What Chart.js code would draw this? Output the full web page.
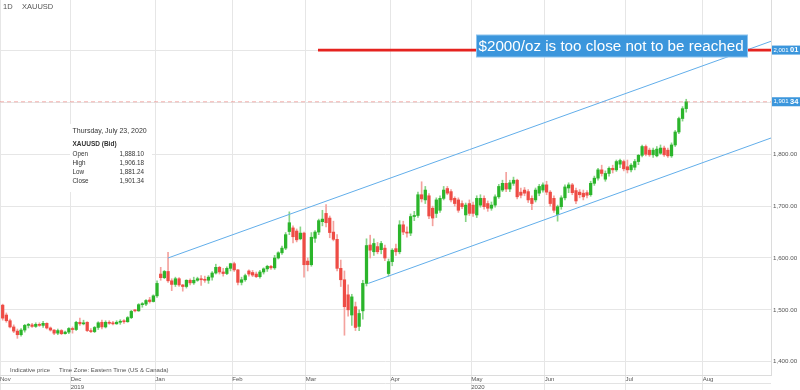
<!DOCTYPE html>
<html><head><meta charset="utf-8">
<script src="https://cdn.jsdelivr.net/npm/chart.js@4.4.1/dist/chart.umd.min.js"></script>
<style>html,body{margin:0;padding:0;background:#fff;}canvas{display:block;}</style>
</head><body>
<canvas id="c" width="800" height="390"></canvas>
<script>
// ---- data ----
const symbol = 'XAUUSD';
const period = '1D';
const monthLabels = ['Nov','Dec','Jan','Feb','Mar','Apr','May','Jun','Jul','Aug'];
const yearLabels  = ['', '2019', '', '', '', '', '2020', '', '', ''];
const monthStartIndex = [null, 19, 42, 63, 83, 106, 128, 148, 170, 191];
const priceTicks = [1400, 1500, 1600, 1700, 1800, 1900, 2000];

const openP = [1509,1490,1479,1467,1459,1452,1461,1470,1471,1468,1472,1470,1474,1465,1461,1455,1460,1454,1457,
1464,1462,1476,1473,1476,1460,1458,1466,1476,1467,1476,1474,1473,1476,1478,1477,1485,1499,1498,1510,1511,1519,
1516,1527,1569,1562,1574,1556,1549,1560,1548,1545,1557,1552,1557,1560,1558,1557,1563,1571,1582,1573,1570,1580,
1589,1577,1553,1558,1575,1572,1569,1564,1573,1579,1584,1581,1600,1610,1619,1651,1658,1652,1637,1648,
1594,1587,1638,1650,1670,1686,1677,1650,1636,1580,1558,1529,1490,1506,1468,1498,1551,1625,1612,1622,1616,1619,
1570,1593,1618,1612,1664,1650,1648,1680,1682,1722,1712,1720,1696,1686,1692,1715,1734,1728,1715,1712,1705,1683,
1705,1702,1683,1702,1715,1705,1696,1702,1718,1731,1744,1733,1744,1750,1727,1731,1728,1715,1712,1725,1731,
1741,1727,1715,1684,1699,1716,1735,1741,1730,1727,1725,1726,1722,1744,1754,1770,1752,1763,1773,1770,1781,1786,
1776,1770,1775,1786,1798,1815,1808,1799,1797,1802,1812,1808,1797,1818,1843,1869,1888.10];
const highP = [1511,1494,1482,1471,1463,1464,1472,1474,1474,1475,1475,1478,1475,1467,1462,1463,1462,1459,1466,
1467,1478,1484,1480,1477,1464,1468,1477,1480,1479,1479,1478,1479,1481,1481,1487,1499,1501,1512,1514,1520,1524,
1529,1556,1582,1576,1611,1560,1563,1562,1549,1558,1560,1563,1563,1566,1565,1566,1574,1588,1584,1580,1583,1590,
1592,1578,1563,1569,1577,1576,1573,1576,1581,1586,1586,1605,1612,1623,1649,1689,1662,1656,1660,1650,
1600,1649,1653,1675,1692,1703,1681,1671,1645,1596,1575,1548,1530,1515,1500,1557,1637,1644,1637,1630,1632,1625,
1598,1618,1627,1672,1671,1660,1685,1690,1727,1747,1738,1724,1700,1716,1720,1738,1738,1732,1718,1716,1710,1706,
1712,1708,1720,1722,1720,1710,1708,1722,1742,1750,1765,1750,1756,1752,1735,1736,1732,1720,1735,1742,1745,
1748,1730,1720,1702,1720,1741,1745,1744,1735,1732,1731,1730,1748,1758,1773,1779,1768,1776,1779,1789,1791,1789,
1789,1782,1790,1800,1818,1818,1812,1812,1815,1818,1816,1812,1822,1846,1872,1892,1906.18];
const lowP = [1480,1476,1465,1456,1445,1449,1457,1465,1466,1466,1468,1466,1463,1459,1452,1452,1452,1453,1454,
1455,1460,1470,1471,1458,1456,1456,1462,1463,1465,1472,1471,1472,1472,1474,1476,1483,1496,1497,1505,1508,1513,
1515,1524,1557,1560,1553,1537,1545,1545,1536,1542,1548,1549,1555,1547,1553,1551,1557,1569,1569,1565,1568,1575,
1574,1548,1548,1555,1565,1564,1562,1561,1569,1574,1578,1578,1598,1607,1616,1645,1629,1631,1635,1563,
1575,1584,1630,1645,1662,1660,1639,1633,1575,1545,1451,1488,1470,1460,1460,1482,1546,1600,1605,1608,1608,1595,
1565,1585,1605,1608,1645,1640,1643,1672,1678,1708,1705,1676,1662,1678,1688,1712,1722,1708,1700,1688,1695,1670,
1682,1680,1678,1698,1694,1690,1692,1698,1715,1728,1728,1728,1740,1714,1716,1720,1707,1693,1708,1720,1727,
1722,1700,1688,1671,1694,1712,1726,1722,1705,1716,1712,1716,1719,1740,1750,1758,1748,1758,1764,1767,1774,1768,
1764,1766,1770,1780,1795,1797,1796,1794,1795,1800,1796,1794,1794,1815,1840,1864,1881.24];
const closeP = [1484,1479,1467,1459,1452,1461,1470,1471,1468,1472,1470,1474,1465,1461,1455,1460,1454,1457,1464,
1462,1476,1473,1474,1460,1458,1466,1475,1467,1476,1474,1473,1476,1478,1477,1485,1497,1498,1510,1511,1518,1516,
1527,1551,1562,1574,1556,1549,1560,1548,1545,1557,1552,1557,1560,1558,1557,1563,1571,1582,1573,1570,1580,1589,
1577,1553,1558,1566,1569,1567,1564,1573,1579,1584,1581,1600,1610,1619,1645,1668,1641,1635,1648,1587,
1587,1640,1650,1672,1675,1668,1649,1636,1580,1558,1506,1500,1525,1466,1493,1551,1624,1615,1628,1612,1628,1600,
1593,1615,1612,1664,1650,1648,1680,1682,1722,1714,1731,1681,1677,1712,1715,1731,1725,1712,1705,1692,1699,1702,
1686,1686,1715,1715,1699,1696,1702,1718,1738,1744,1733,1745,1750,1718,1721,1725,1712,1705,1731,1738,1741,
1727,1705,1692,1699,1716,1737,1741,1726,1710,1722,1718,1721,1744,1754,1770,1763,1763,1773,1770,1786,1788,1772,
1770,1779,1786,1798,1815,1800,1799,1808,1810,1812,1799,1797,1818,1843,1869,1888,1901.34];

const upperChannel = [{x: 45, y: 1600}, {x: 209.07, y: 2018}];
const lowerChannel = [{x: 99.5, y: 1551}, {x: 209.07, y: 1831.4}];
const resistanceLevel = 2001.01;
const resistanceFrom = 85.8;
const lastPrice = closeP[closeP.length - 1];
const infoDate = 'Thursday, July 23, 2020';
const infoTitle = 'XAUUSD (Bid)';
const noteText = '$2000/oz is too close not to be reached';
const footerLeft = 'Indicative price';
const footerRight = 'Time Zone: Eastern Time (US & Canada)';

// ---- chart ----
const X_MIN = -0.73, X_MAX = 209.07;
const FONT = "'Liberation Sans', Arial, sans-serif";
const UP = '#2bb52b', DOWN = '#ee4c45', UPW = '#86d486', DOWNW = '#f4a29e';

const idx = openP.map((_, i) => i);
const isUp = idx.map(i => closeP[i] >= openP[i]);
const fmt = v => v.toLocaleString('en-US', {minimumFractionDigits: 2, maximumFractionDigits: 2});
const noPad = s => { s.paddingTop = 0; s.paddingBottom = 0; s.paddingLeft = 0; s.paddingRight = 0; };

const overlay = {
  id: 'overlay',
  afterDatasetsDraw(chart) {
    const {ctx} = chart;
    ctx.save();
    ctx.fillStyle = '#555';
    ctx.font = '6px ' + FONT;
    ctx.textBaseline = 'middle';
    ctx.textAlign = 'left';
    ctx.fillText(footerLeft, 10, 370);
    ctx.fillText(footerRight, 59, 370);
    // info box
    ctx.fillStyle = '#fff';
    ctx.fillRect(70, 124, 82, 68);
    ctx.fillStyle = '#333';
    ctx.font = '7px ' + FONT;
    ctx.fillText(infoDate, 72.5, 131);
    ctx.font = 'bold 6.5px ' + FONT;
    ctx.fillText(infoTitle, 72.5, 144);
    const last = openP.length - 1;
    const rows = [['Open', openP[last]], ['High', highP[last]], ['Low', lowP[last]], ['Close', closeP[last]]];
    ctx.font = '6.3px ' + FONT;
    rows.forEach((r, k) => {
      const yy = 154 + k * 9;
      ctx.textAlign = 'left';
      ctx.fillText(r[0], 72.5, yy);
      ctx.textAlign = 'right';
      ctx.fillText(fmt(r[1]), 144, yy);
    });
    // annotation note
    ctx.fillStyle = '#3b96dc';
    ctx.fillRect(476.5, 35, 271, 22);
    ctx.strokeStyle = '#8cc3ee';
    ctx.lineWidth = 1;
    ctx.strokeRect(476.5, 35, 271, 22);
    ctx.fillStyle = '#fff';
    ctx.font = '15.2px ' + FONT;
    ctx.textAlign = 'left';
    ctx.textBaseline = 'middle';
    ctx.fillText(noteText, 478.5, 46.5);
    ctx.restore();
  },
  afterDraw(chart) {
    const {ctx, scales: {y}, chartArea: a} = chart;
    ctx.save();
    ctx.fillStyle = '#555';
    ctx.font = '7.5px ' + FONT;
    ctx.textBaseline = 'middle';
    ctx.textAlign = 'left';
    ctx.fillText(period, 3, 7);
    ctx.fillText(symbol, 22, 7);
    ctx.strokeStyle = '#e3e3e3';
    ctx.lineWidth = 1;
    ctx.beginPath(); ctx.moveTo(0, 383.5); ctx.lineTo(a.right, 383.5); ctx.stroke();
    const tag = (v) => {
      const cy = y.getPixelForValue(v);
      ctx.fillStyle = '#3b96dc';
      ctx.fillRect(a.right + 1, cy - 4.5, 28, 9);
      const s = fmt(v);
      const head = s.slice(0, -3), tail = s.slice(-2);
      ctx.fillStyle = '#fff';
      ctx.font = '6px ' + FONT;
      ctx.textAlign = 'left';
      ctx.textBaseline = 'middle';
      ctx.fillText(head, a.right + 2.5, cy);
      const w = ctx.measureText(head).width;
      ctx.font = 'bold 7.5px ' + FONT;
      ctx.fillText(tail, a.right + 4 + w, cy);
    };
    tag(resistanceLevel);
    tag(lastPrice);
    ctx.restore();
  }
};

new Chart(document.getElementById('c'), {
  type: 'bar',
  data: {
    datasets: [
      {type: 'line', data: [{x: resistanceFrom, y: resistanceLevel}, {x: X_MAX, y: resistanceLevel}],
       borderColor: '#e5231f', borderWidth: 2.6, pointRadius: 0},
      {type: 'line', data: upperChannel, borderColor: '#62aeea', borderWidth: 1, pointRadius: 0},
      {type: 'line', data: lowerChannel, borderColor: '#62aeea', borderWidth: 1, pointRadius: 0},
      {type: 'line', data: [{x: X_MIN, y: lastPrice}, {x: X_MAX, y: lastPrice}],
       borderColor: 'rgba(236,120,115,0.55)', borderWidth: 1, borderDash: [4, 3], pointRadius: 0},
      {data: idx.map(i => ({x: i, y: [openP[i], closeP[i]]})),
       backgroundColor: idx.map(i => isUp[i] ? UP : DOWN),
       barThickness: 2.6, grouped: false, minBarLength: 1, borderWidth: 0},
      {data: idx.map(i => ({x: i, y: [lowP[i], highP[i]]})),
       backgroundColor: idx.map(i => isUp[i] ? UPW : DOWNW),
       barThickness: 1, grouped: false, borderWidth: 0}
    ]
  },
  options: {
    responsive: false,
    animation: false,
    devicePixelRatio: 1,
    layout: {padding: 0},
    plugins: {legend: {display: false}, tooltip: {enabled: false}},
    scales: {
      x: {
        type: 'linear', min: X_MIN, max: X_MAX, offset: false,
        grid: {color: '#e6e6e6', tickColor: '#e6e6e6', tickLength: 15, offset: false},
        border: {display: true, color: '#dcdcdc'},
        afterBuildTicks: s => { s.ticks = monthStartIndex.map(v => ({value: v === null ? X_MIN : v - 0.5})); },
        afterFit: s => { s.height = 15; noPad(s); },
        ticks: {
          autoSkip: false, maxRotation: 0, minRotation: 0, align: 'start', padding: -15,
          color: '#555', font: {family: FONT, size: 6, lineHeight: 1.35},
          callback: (v, i) => yearLabels[i] ? [monthLabels[i], yearLabels[i]] : monthLabels[i]
        }
      },
      y: {
        position: 'right', min: 1374.3, max: 2097.6, beginAtZero: false,
        grid: {color: '#e6e6e6', drawTicks: false},
        border: {display: true, color: '#dcdcdc'},
        afterBuildTicks: s => { s.ticks = priceTicks.map(v => ({value: v})); },
        afterFit: s => { s.width = 29; noPad(s); },
        ticks: {
          autoSkip: false, padding: 2, color: '#555', font: {family: FONT, size: 6.2},
          callback: v => v <= 1800 ? fmt(v) : ''
        }
      }
    }
  },
  plugins: [overlay]
});
</script>
</body></html>
